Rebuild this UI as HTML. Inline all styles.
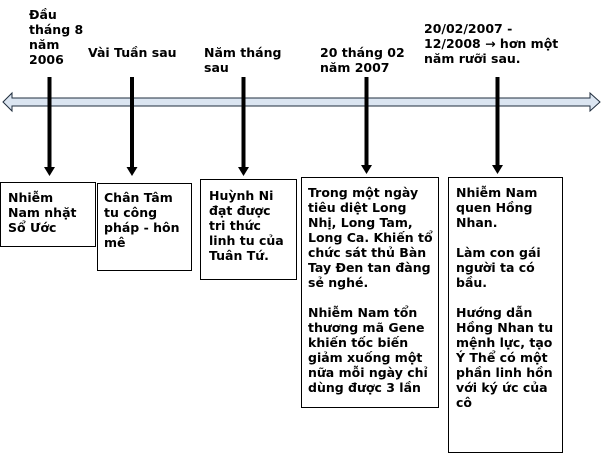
<!DOCTYPE html>
<html><head><meta charset="utf-8"><style>
body{margin:0;width:602px;height:453px;background:#fff;position:relative;overflow:hidden;font-family:"DejaVu Sans","Liberation Sans",sans-serif;font-weight:bold;font-size:12.5px;line-height:15px;color:#000}
.t{position:absolute;white-space:nowrap}
.b{position:absolute;border:1px solid #000;box-sizing:border-box;background:#fff}
</style></head><body>
<svg width="602" height="453" style="position:absolute;left:0;top:0">
<polygon points="3,102 12,93 12,98 590,98 590,93 600,102 590,111 590,106 12,106 12,111" fill="#dbe5f1" stroke="#1f2d3d" stroke-width="1"/>
<g fill="#000">
<rect x="47.5" y="77" width="4" height="92"/><polygon points="44,167 55,167 49.5,176"/>
<rect x="130" y="77" width="4" height="92"/><polygon points="126.5,167 137.5,167 132,176"/>
<rect x="241.5" y="77" width="4" height="92"/><polygon points="238,167 249,167 243.5,176"/>
<rect x="364.5" y="77" width="4" height="92"/><polygon points="361,165 372,165 366.5,174"/>
<rect x="495.5" y="77" width="4" height="92"/><polygon points="492,165 503,165 497.5,174"/>
</g>
</svg>
<div class="t" style="left:29px;top:7px">Đầu<br>tháng 8<br>năm<br>2006</div>
<div class="t" style="left:88px;top:45px">Vài Tuần sau</div>
<div class="t" style="left:204px;top:45px">Năm tháng<br>sau</div>
<div class="t" style="left:320px;top:45px">20 tháng 02<br>năm 2007</div>
<div class="t" style="left:424px;top:21px">20/02/2007 -<br>12/2008 → hơn một<br>năm rưỡi sau.</div>
<div class="b" style="left:0;top:182px;width:96px;height:65px"></div>
<div class="t" style="left:8px;top:190px">Nhiễm<br>Nam nhặt<br>Sổ Ước</div>
<div class="b" style="left:97px;top:183px;width:95px;height:88px"></div>
<div class="t" style="left:104px;top:190px">Chân Tâm<br>tu công<br>pháp - hôn<br>mê</div>
<div class="b" style="left:200px;top:179px;width:97px;height:101px"></div>
<div class="t" style="left:209px;top:188px">Huỳnh Ni<br>đạt được<br>tri thức<br>linh tu của<br>Tuân Tứ.</div>
<div class="b" style="left:301px;top:177px;width:138px;height:231px"></div>
<div class="t" style="left:308px;top:185px">Trong một ngày<br>tiêu diệt Long<br>Nhị, Long Tam,<br>Long Ca. Khiến tổ<br>chức sát thủ Bàn<br>Tay Đen tan đàng<br>sẻ nghé.<br><br>Nhiễm Nam tổn<br>thương mã Gene<br>khiến tốc biến<br>giảm xuống một<br>nữa mỗi ngày chỉ<br>dùng được 3 lần</div>
<div class="b" style="left:448px;top:177px;width:115px;height:276px"></div>
<div class="t" style="left:456px;top:185px">Nhiễm Nam<br>quen Hồng<br>Nhan.<br><br>Làm con gái<br>người ta có<br>bầu.<br><br>Hướng dẫn<br>Hồng Nhan tu<br>mệnh lực, tạo<br>Ý Thể có một<br>phần linh hồn<br>với ký ức của<br>cô</div>
</body></html>
